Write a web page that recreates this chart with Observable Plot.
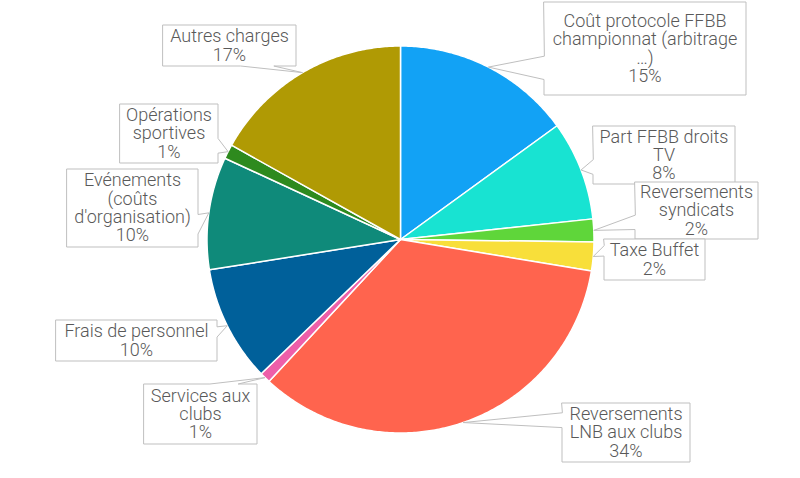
<!DOCTYPE html>
<html><head><meta charset="utf-8">
<script src="https://cdn.jsdelivr.net/npm/d3@7"></script>
<script src="https://cdn.jsdelivr.net/npm/@observablehq/plot@0.6"></script>
<style>html,body{margin:0;padding:0;background:#fff} svg{display:block}</style>
</head><body><div id="chart"></div>
<script>
// ---- data ----
const categories = ["Coût protocole FFBB championnat (arbitrage …)", "Part FFBB droits TV", "Reversements syndicats", "Taxe Buffet", "Reversements LNB aux clubs", "Services aux clubs", "Frais de personnel", "Evénements (coûts d'organisation)", "Opérations sportives", "Autres charges"];
const shares = [15.0, 8.3, 1.9, 2.4, 34.3, 0.9, 9.7, 9.4, 1.2, 16.9];
const percentLabels = ["15%", "8%", "2%", "2%", "34%", "1%", "10%", "10%", "1%", "17%"];
const labelText = ["Coût protocole FFBB\nchampionnat (arbitrage\n…)", "Part FFBB droits\nTV", "Reversements\nsyndicats", "Taxe Buffet", "Reversements\nLNB aux clubs", "Services aux\nclubs", "Frais de personnel", "Evénements\n(coûts\nd'organisation)", "Opérations\nsportives", "Autres charges"];
const colors = ["#12a2f5", "#18e3d2", "#5fd63a", "#f8df3a", "#ff644e", "#ee5fa9", "#00609a", "#0f8a7a", "#2e8a1e", "#b09a04"];

// ---- layout (pixels) ----
const W = 800, H = 478;
const cx = 400, cy = 239, R = 193.5;
const boxes = [
  [543, 1, 745, 94],
  [592, 125, 734, 183],
  [634, 181, 757, 238],
  [603, 238, 704, 279],
  [561, 402, 689, 461],
  [143, 383, 256, 443],
  [55, 319, 216, 360],
  [66, 168, 197, 246],
  [119, 103, 217, 162],
  [162, 24, 295, 65]
];

const arcs = d3.pie().sort(null).value(d => d)(shares);
const pt = (a, r) => [cx + r * Math.sin(a), cy - r * Math.cos(a)];

// slice polygons
const slicePts = [];
arcs.forEach((a, i) => {
  slicePts.push({id: i, cat: categories[i], x: cx, y: cy});
  const n = Math.max(2, Math.ceil((a.endAngle - a.startAngle) / 0.01));
  for (let k = 0; k <= n; k++) {
    const ang = a.startAngle + (a.endAngle - a.startAngle) * k / n;
    const [x, y] = pt(ang, R);
    slicePts.push({id: i, cat: categories[i], x, y});
  }
});

// wedge-rect callouts
function callout(b, t) {
  const [x0, y0, x1, y1] = b.map(v => v + 0.5);
  const w = x1 - x0, h = y1 - y0, hc = (x0 + x1) / 2, vc = (y0 + y1) / 2;
  const dxPos = t[0] - hc, dyPos = t[1] - vc;
  const dx = dxPos * h, dy = dyPos * w;
  const horiz = Math.abs(dx) - Math.abs(dy) > 0;
  const xa = x0 + w * (dxPos > 0 ? 7 : 2) / 12, xb = x0 + w * (dxPos > 0 ? 10 : 5) / 12;
  const ya = y0 + h * (dyPos > 0 ? 7 : 2) / 12, yb = y0 + h * (dyPos > 0 ? 10 : 5) / 12;
  const side = horiz ? (dxPos < 0 ? "l" : "r") : (dyPos < 0 ? "t" : "b");
  const p = [[x0, y0]];
  if (side === "t") p.push([xa, y0], t, [xb, y0]);
  p.push([x1, y0]);
  if (side === "r") p.push([x1, ya], t, [x1, yb]);
  p.push([x1, y1]);
  if (side === "b") p.push([xb, y1], t, [xa, y1]);
  p.push([x0, y1]);
  if (side === "l") p.push([x0, yb], t, [x0, ya]);
  return p;
}
const calloutPts = [];
const labels = [];
arcs.forEach((a, i) => {
  const mid = (a.startAngle + a.endAngle) / 2;
  const tip = pt(mid, R);
  callout(boxes[i], tip).forEach(([x, y]) => calloutPts.push({id: i, x, y}));
  const b = boxes[i];
  labels.push({x: (b[0] + b[2]) / 2 + 0.5, y: (b[1] + b[3]) / 2 + 0.5, text: labelText[i] + "\n" + percentLabels[i]});
});

const chart = Plot.plot({
  width: W, height: H,
  margin: 0,
  x: {domain: [0, W], range: [0, W], axis: null},
  y: {domain: [0, H], range: [0, H], axis: null},
  color: {domain: categories, range: colors},
  style: {background: "#fff"},
  marks: [
    Plot.line(slicePts, {x: "x", y: "y", z: "id", fill: "cat", stroke: "#fff", strokeWidth: 1.5, curve: "linear-closed", strokeLinejoin: "round"}),
    Plot.line(calloutPts, {x: "x", y: "y", z: "id", fill: "#fff", stroke: "#bfbfbf", strokeWidth: 1, curve: "linear-closed"}),
    Plot.text(labels, {x: "x", y: "y", text: "text", fill: "#595959", fontSize: 18, lineHeight: 1.02, fontFamily: "Roboto", fontWeight: 300})
  ]
});
document.getElementById("chart").appendChild(chart);
</script>
</body></html>
